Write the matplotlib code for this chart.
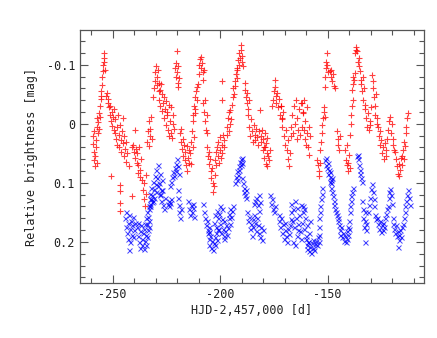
import matplotlib
matplotlib.use("Agg")
import matplotlib.pyplot as plt
from matplotlib.ticker import MultipleLocator, FuncFormatter

plt.rcParams['axes.unicode_minus'] = False
plt.rcParams['font.family'] = 'DejaVu Sans Mono'

# red: first band (+), one row per night
red_x = [
    -259.3, -259.1, -258.9, -258.7, -258.5, -258.3, -258.1, -257.9, -257.7, -257.5,
    -257.3, -257.1, -256.9, -256.7, -256.5, -256.3, -256.1,
    -255.8, -255.6, -255.4, -255.2, -255.0, -254.8, -254.6, -254.4, -254.2, -254.0, -253.8, -253.6,
    -253.0, -252.6, -252.3, -252.0, -251.7, -251.4, -251.1, -250.8, -250.5, -250.2, -249.9, -249.6, -249.3,
    -249.0, -248.7, -248.4, -248.1, -247.8, -247.5, -247.2, -246.9, -246.6, -246.3,
    -246.0, -245.7, -245.4, -245.1, -244.8, -244.5, -244.2, -243.9, -243.6, -243.3,
    -250.8, -246.6, -246.5, -246.5, -246.4, -241.2, -242.3, -241.0,
    -240.4, -240.1, -239.8, -239.5, -239.2, -238.9, -238.6, -238.3, -238.0, -237.7, -237.4, -237.1, -236.8,
    -236.2, -235.9, -235.6, -235.3, -235.0, -234.7, -234.4,
    -233.9, -233.6, -233.3, -233.0, -232.7, -232.4, -232.1, -231.8,
    -231.0, -230.7, -230.4, -230.1, -229.8, -229.5, -229.2, -228.9, -228.6, -228.3,
    -228.4, -228.1, -227.8, -227.5, -227.2, -226.9, -226.6, -226.3, -226.0, -225.7, -225.4, -225.1, -224.8,
    -224.5, -224.2, -223.9, -223.6, -223.3, -223.0, -222.7, -222.4, -222.1, -221.8, -221.5,
    -220.8, -220.6, -220.4, -220.2, -220.0, -219.8, -219.6, -219.4, -219.2,
    -218.6, -218.3, -218.0, -217.7, -217.4, -217.1, -216.8, -216.5, -216.2, -215.9, -215.6, -215.3, -215.0, -214.7, -214.4,
    -214.0, -213.7, -213.4, -213.1, -212.8, -212.5, -212.2, -211.9,
    -212.4, -212.1, -211.8, -211.5, -211.2, -210.9, -210.6,
    -210.2, -209.9, -209.6, -209.3, -209.0, -208.7, -208.4, -208.1, -207.8, -207.5,
    -207.8, -207.5, -207.2, -206.9, -206.6, -206.3, -206.0,
    -205.9, -205.6, -205.3, -205.0, -204.7, -204.4, -204.1, -203.8, -203.5, -203.2, -202.9, -202.6,
    -202.3, -202.0, -201.7, -201.4, -201.1, -200.8, -200.5, -200.2, -199.9, -199.6, -199.3, -199.0, -198.7, -198.4, -198.1,
    -199.3, -199.3,
    -197.0, -196.7, -196.4, -196.1, -195.8, -195.5, -195.2, -194.9,
    -194.4, -194.1, -193.8, -193.5, -193.2, -192.9, -192.6, -192.3, -192.0,
    -192.0, -191.7, -191.4, -191.1, -190.8, -190.5, -190.2, -189.9, -189.6, -189.4,
    -188.5, -188.2, -187.9, -187.6, -187.3, -187.0, -186.7,
    -186.8, -186.4, -186.0, -185.6, -185.2, -184.8, -184.4, -184.0, -183.6, -183.2, -182.8,
    -182.4, -182.0, -181.6, -181.2, -180.8, -180.4, -180.0, -179.6, -179.2, -178.8, -178.4,
    -180.0, -179.6, -179.2, -178.8, -178.4, -178.0, -177.6, -177.2, -176.9,
    -175.9, -175.5, -175.1, -174.7, -174.5, -174.2, -173.8, -173.4, -173.0, -172.6, -172.2, -171.8, -171.4,
    -171.8, -171.4, -171.0, -170.6, -170.2, -169.8, -169.4, -169.0, -168.6, -168.2, -167.8, -167.5,
    -167.2, -166.8, -166.4, -166.0, -165.6, -165.2, -164.8, -164.4, -164.0, -163.6, -163.2, -162.8, -162.4, -162.0, -161.6,
    -161.8, -161.5, -161.2, -160.9, -160.6, -160.3, -160.0, -159.7, -159.4, -159.1, -158.8, -158.5, -158.2,
    -155.0, -154.6, -154.2, -153.8, -153.4,
    -153.4, -153.1, -152.8, -152.5, -152.2, -151.9, -151.6, -151.3,
    -151.2, -151.0, -150.8, -150.6, -150.4, -150.2, -150.0,
    -149.0, -148.6, -148.2, -147.8, -147.4, -147.0, -146.7,
    -145.6, -145.3, -145.0, -144.7, -144.4,
    -141.8, -141.5, -141.2, -140.9, -140.6, -140.3, -140.0, -139.7,
    -139.5, -139.2, -138.9, -138.6, -138.3,
    -138.6, -138.3, -138.0, -137.7, -137.4,
    -137.2, -136.9, -136.6, -136.3,
    -135.8, -135.5, -135.2, -134.9, -134.6, -134.3, -134.0, -133.7, -133.4, -133.1, -132.8,
    -132.5, -132.1, -131.7, -131.3, -130.9, -130.5, -130.1, -129.7,
    -129.3, -129.0, -128.7, -128.4, -128.1, -127.8, -127.5, -127.2,
    -127.0, -126.6, -126.2, -125.8, -125.4, -125.0, -124.6, -124.2, -123.8, -123.4, -123.0, -122.6, -122.2,
    -121.8, -121.4, -121.0, -120.6, -120.2, -119.8, -119.4, -119.0,
    -118.6, -118.2, -117.8, -117.4, -117.0, -116.6, -116.2, -115.8, -115.4,
    -115.2, -114.9, -114.6, -114.3, -114.0, -113.7, -113.4, -113.1, -112.8,
]
red_y = [
    0.020, 0.034, 0.012, 0.048, 0.062, 0.072, 0.055, 0.040, 0.028, 0.066,
    0.005, -0.010, 0.015, -0.004, -0.018, 0.008, -0.012,
    -0.030, -0.042, -0.055, -0.048, -0.066, -0.080, -0.090, -0.100, -0.112, -0.120, -0.105, -0.092,
    -0.048, -0.052, -0.035, -0.042, -0.028, -0.015, -0.030, -0.005, -0.020, 0.004, -0.012, 0.010, -0.025,
    0.015, -0.008, 0.025, 0.005, 0.035, -0.015, 0.018, 0.040, 0.002, 0.028,
    0.048, 0.012, -0.010, 0.032, 0.055, 0.020, 0.042, 0.065, 0.030, 0.050,
    0.088, 0.104, 0.114, 0.134, 0.148, 0.123, 0.072, 0.040,
    0.035, 0.048, 0.010, 0.058, 0.042, 0.066, 0.050, 0.084, 0.070, 0.040, 0.078, 0.090, 0.060,
    0.095, 0.112, 0.128, 0.100, 0.140, 0.118, 0.086,
    0.030, 0.012, 0.038, -0.005, 0.020, 0.008, -0.012, 0.025,
    -0.045, -0.060, -0.072, -0.088, -0.098, -0.080, -0.066, -0.092, -0.055, -0.070,
    -0.040, -0.058, -0.030, -0.068, -0.022, -0.050, -0.035, -0.010, -0.045, -0.025, 0.002, -0.038, -0.015,
    -0.020, 0.010, -0.032, 0.020, -0.005, 0.015, -0.028, 0.024, 0.000, -0.015, 0.008,
    -0.095, -0.080, -0.104, -0.123, -0.088, -0.070, -0.098, -0.062, -0.078,
    0.015, 0.030, 0.008, 0.042, 0.025, 0.055, 0.035, 0.062, 0.048, 0.070, 0.038, 0.080, 0.058, 0.045, 0.066,
    0.050, 0.030, 0.068, 0.012, 0.040, -0.005, 0.022, -0.018,
    -0.015, -0.030, -0.045, -0.025, -0.055, -0.040, -0.062,
    -0.068, -0.085, -0.100, -0.110, -0.095, -0.114, -0.104, -0.088, -0.075, -0.092,
    -0.035, -0.020, -0.040, -0.005, 0.010, -0.015, 0.015,
    0.040, 0.055, 0.048, 0.068, 0.060, 0.080, 0.092, 0.075, 0.100, 0.115, 0.105, 0.086,
    0.062, 0.048, 0.070, 0.040, 0.055, 0.030, 0.066, 0.045, 0.022, 0.058, 0.035, 0.050, 0.018, 0.040, 0.028,
    -0.072, -0.040,
    0.018, 0.005, -0.010, 0.012, -0.020, 0.000, -0.024, -0.008,
    -0.032, -0.045, -0.060, -0.050, -0.072, -0.065, -0.085, -0.078, -0.092,
    -0.095, -0.108, -0.100, -0.120, -0.112, -0.134, -0.125, -0.115, -0.105, -0.098,
    -0.070, -0.058, -0.045, -0.052, -0.035, -0.025, -0.040,
    -0.015, 0.005, 0.020, -0.008, 0.012, 0.030, 0.002, 0.018, 0.028, 0.008, 0.022,
    0.035, 0.012, -0.024, 0.020, 0.030, 0.010, 0.026, 0.040, 0.016, 0.032, 0.024,
    0.045, 0.058, 0.040, 0.068, 0.050, 0.072, 0.055, 0.062, 0.044,
    -0.030, -0.040, -0.055, -0.062, -0.075, -0.048, -0.035, -0.052, -0.028, -0.042, -0.015, -0.030, -0.008,
    -0.030, -0.010, 0.005, -0.020, 0.020, 0.035, 0.010, 0.045, 0.060, 0.028, 0.072, 0.050,
    0.020, 0.005, -0.015, 0.015, -0.030, 0.000, -0.040, 0.025, -0.010, 0.010, -0.025, 0.018, -0.035, 0.005, -0.018,
    -0.035, -0.020, 0.010, -0.040, 0.025, -0.005, 0.035, 0.015, -0.028, 0.040, 0.005, 0.052, 0.020,
    0.062, 0.070, 0.080, 0.088, 0.066,
    0.045, 0.030, 0.015, 0.002, -0.010, -0.020, -0.028, -0.012,
    -0.062, -0.080, -0.095, -0.105, -0.120, -0.100, -0.088,
    -0.090, -0.080, -0.092, -0.072, -0.085, -0.065, -0.060,
    0.012, 0.025, 0.035, 0.044, 0.020,
    0.045, 0.062, 0.070, 0.035, 0.080, 0.066, 0.052, 0.075,
    0.018, 0.000, -0.015, -0.030, -0.040,
    -0.058, -0.068, -0.080, -0.075, -0.087,
    -0.120, -0.126, -0.130, -0.124,
    -0.105, -0.112, -0.098, -0.090, -0.075, -0.068, -0.055, -0.080, -0.040, -0.060, -0.032,
    -0.025, -0.010, 0.005, -0.018, 0.010, -0.005, 0.002, -0.028,
    -0.083, -0.072, -0.060, -0.045, -0.030, -0.015, -0.050, 0.000,
    -0.010, 0.005, 0.020, 0.012, 0.035, 0.028, 0.050, 0.040, 0.060, 0.032, 0.055, 0.045, 0.025,
    0.010, -0.005, -0.012, 0.015, 0.000, 0.025, 0.035, 0.044,
    0.048, 0.060, 0.072, 0.085, 0.068, 0.089, 0.078, 0.058, 0.070,
    0.055, 0.045, 0.060, 0.030, 0.038, 0.015, 0.005, -0.010, -0.018,
]

# blue: second band (x)
blue_x = [
    -244.2, -243.9, -243.6, -243.3, -243.0, -242.7, -242.4, -242.1, -241.8, -241.5, -241.2, -240.9, -240.6, -240.3, -240.0, -239.7, -242.4,
    -238.6, -238.3, -238.0, -237.7, -237.4, -237.1, -236.8, -236.5, -236.2, -235.9,
    -235.6, -235.3, -235.0, -234.7, -234.4, -234.1, -233.8, -233.5, -233.2, -232.9,
    -234.8, -234.4, -234.0, -233.6, -233.2, -232.8, -232.4, -232.0, -231.7,
    -233.2, -232.8, -232.4, -232.0, -231.6, -231.2, -230.8, -230.4, -230.0, -229.6, -229.2,
    -228.8, -228.4, -228.0, -227.6, -227.2, -231.4, -230.6, -229.8, -229.0, -228.2,
    -227.8, -227.4, -227.0, -226.6, -226.2, -225.8,
    -224.4, -224.0, -223.6, -223.2, -222.8,
    -223.1, -222.7, -222.3, -221.9, -221.5, -221.1, -220.7, -220.3, -219.9, -219.5, -219.1,
    -219.8, -219.5, -219.2, -218.9, -218.6, -218.4,
    -214.8, -214.4, -214.0, -213.6, -213.2, -212.8, -212.4, -212.0,
    -207.8, -207.4, -207.0, -206.6, -206.2, -205.8, -205.4, -205.0,
    -205.8, -205.4, -205.0, -204.6, -204.2, -203.8, -203.4, -203.0, -202.6, -202.2, -201.8, -201.4, -201.0,
    -202.8, -202.4, -202.0, -201.6, -201.2, -200.8, -200.4, -200.0, -199.6, -199.2, -198.8,
    -198.4, -198.0, -197.6, -197.2, -196.8, -196.4, -196.0, -195.6, -199.0, -198.0, -200.2,
    -195.8, -195.4, -195.0, -194.6, -194.2,
    -192.9, -192.6, -192.3, -192.0, -191.7, -191.4, -191.1, -190.8, -190.5, -190.2, -189.9, -189.6,
    -189.6, -189.3, -189.0, -188.7, -188.4, -188.1, -187.8,
    -187.3, -186.9, -186.5, -186.1, -185.7, -185.3, -184.9, -184.5, -184.1, -183.7,
    -183.3, -182.9, -182.5, -182.1, -181.7, -181.3, -180.9, -180.5, -180.1,
    -184.4, -183.8, -183.2, -182.6, -182.0, -181.4,
    -176.6, -176.2, -175.8, -175.4, -175.0, -174.6,
    -172.8, -172.4, -172.0, -171.6, -171.2, -170.8, -170.4, -170.0, -169.6, -169.2, -168.8, -168.4, -168.0, -167.6, -167.2,
    -167.2, -166.8, -166.4, -166.0, -165.6, -165.2, -164.8, -164.4, -164.0, -163.6, -163.2, -162.8, -162.4, -162.0,
    -161.6, -161.2, -160.8, -160.4, -160.0, -159.6, -159.2, -158.8, -158.4, -166.2, -165.0, -163.8, -162.6, -161.4,
    -160.2, -159.8, -159.4, -159.0, -158.6, -158.2, -157.8, -157.4, -157.0,
    -156.6, -156.2, -155.8, -155.4, -155.0, -154.6, -154.2, -153.8,
    -154.2, -153.9, -153.6, -153.3, -153.0, -152.7, -152.4,
    -151.2, -150.9, -150.6, -150.3, -150.0, -149.7, -149.4, -149.1, -148.8, -148.5, -148.2, -147.9,
    -148.8, -148.4, -148.0, -147.6, -147.2, -146.8, -146.4, -146.0, -145.6, -145.3,
    -145.2, -144.8, -144.4, -144.0, -143.6, -143.2, -142.8, -142.4, -142.0, -141.6, -141.2, -140.8, -140.4, -140.0,
    -140.4, -140.1, -139.8, -139.5, -139.2, -138.9, -138.6, -138.3,
    -136.3, -136.0, -135.7, -135.4, -135.1, -134.8, -134.5, -134.2,
    -134.0, -133.7, -133.4, -133.1, -132.8, -132.5, -132.2, -131.9, -132.7,
    -131.0, -130.6, -130.2, -129.8, -129.4, -129.0, -128.6, -128.2, -127.8, -127.4,
    -126.8, -126.4, -126.0, -125.6, -125.2, -124.8, -124.4, -124.0, -123.6, -123.2, -122.8, -122.4,
    -122.0, -121.6, -121.2, -120.8, -120.4, -120.0,
    -119.8, -119.4, -119.0, -118.6, -118.2, -117.8, -117.4, -117.0, -116.6, -116.2, -115.8, -115.4, -117.3,
    -115.0, -114.6, -114.2, -113.8, -113.4, -113.0, -112.6, -112.2, -111.8,
]
blue_y = [
    0.160, 0.175, 0.150, 0.185, 0.168, 0.195, 0.155, 0.178, 0.200, 0.165, 0.188, 0.172, 0.158, 0.192, 0.180, 0.168, 0.214,
    0.175, 0.190, 0.168, 0.200, 0.182, 0.210, 0.172, 0.195, 0.205, 0.185,
    0.212, 0.178, 0.198, 0.206, 0.188, 0.170, 0.192, 0.180, 0.165, 0.175,
    0.170, 0.160, 0.150, 0.158, 0.145, 0.135, 0.140, 0.128, 0.132,
    0.140, 0.128, 0.118, 0.108, 0.120, 0.098, 0.110, 0.088, 0.102, 0.078, 0.092,
    0.070, 0.100, 0.085, 0.112, 0.095, 0.130, 0.125, 0.115, 0.105, 0.120,
    0.118, 0.130, 0.112, 0.138, 0.145, 0.125,
    0.136, 0.130, 0.140, 0.134, 0.128,
    0.105, 0.098, 0.090, 0.082, 0.088, 0.075, 0.068, 0.080, 0.060, 0.072, 0.085,
    0.112, 0.125, 0.138, 0.150, 0.160, 0.145,
    0.130, 0.145, 0.155, 0.138, 0.150, 0.135, 0.142, 0.158,
    0.135, 0.150, 0.160, 0.172, 0.165, 0.180, 0.184, 0.175,
    0.185, 0.195, 0.205, 0.190, 0.210, 0.198, 0.213, 0.202, 0.192, 0.205, 0.185, 0.196, 0.178,
    0.168, 0.155, 0.175, 0.148, 0.160, 0.180, 0.152, 0.170, 0.185, 0.162, 0.178,
    0.190, 0.165, 0.182, 0.172, 0.188, 0.176, 0.160, 0.170, 0.145, 0.195, 0.140,
    0.152, 0.145, 0.158, 0.148, 0.140,
    0.100, 0.090, 0.095, 0.080, 0.086, 0.072, 0.078, 0.065, 0.070, 0.060, 0.066, 0.058,
    0.092, 0.100, 0.108, 0.115, 0.120, 0.112, 0.125,
    0.150, 0.165, 0.158, 0.178, 0.170, 0.190, 0.162, 0.175, 0.155, 0.168,
    0.182, 0.160, 0.172, 0.148, 0.185, 0.192, 0.175, 0.196, 0.180,
    0.135, 0.130, 0.125, 0.138, 0.120, 0.132,
    0.120, 0.135, 0.128, 0.145, 0.150, 0.140,
    0.155, 0.165, 0.175, 0.160, 0.185, 0.170, 0.195, 0.180, 0.168, 0.190, 0.200, 0.178, 0.186, 0.172, 0.162,
    0.150, 0.135, 0.165, 0.145, 0.175, 0.130, 0.160, 0.190, 0.142, 0.170, 0.155, 0.182, 0.138, 0.168,
    0.150, 0.178, 0.145, 0.160, 0.190, 0.172, 0.200, 0.185, 0.165, 0.200, 0.205, 0.180, 0.195, 0.140,
    0.195, 0.205, 0.212, 0.200, 0.215, 0.208, 0.218, 0.202, 0.210,
    0.196, 0.214, 0.204, 0.198, 0.206, 0.192, 0.200, 0.188,
    0.175, 0.160, 0.150, 0.140, 0.128, 0.118, 0.108,
    0.062, 0.070, 0.058, 0.075, 0.066, 0.085, 0.078, 0.090, 0.082, 0.095, 0.100, 0.092,
    0.098, 0.108, 0.115, 0.122, 0.130, 0.138, 0.145, 0.150, 0.155, 0.160,
    0.165, 0.172, 0.180, 0.188, 0.175, 0.192, 0.185, 0.198, 0.190, 0.200, 0.182, 0.195, 0.188, 0.178,
    0.175, 0.165, 0.150, 0.140, 0.130, 0.122, 0.115, 0.108,
    0.055, 0.060, 0.052, 0.070, 0.085, 0.078, 0.092, 0.098,
    0.130, 0.145, 0.160, 0.175, 0.150, 0.165, 0.180, 0.170, 0.200,
    0.150, 0.138, 0.125, 0.110, 0.102, 0.115, 0.128, 0.140, 0.155, 0.162,
    0.160, 0.170, 0.178, 0.165, 0.184, 0.172, 0.180, 0.168, 0.175, 0.160, 0.152, 0.145,
    0.140, 0.125, 0.115, 0.110, 0.120, 0.135,
    0.160, 0.170, 0.178, 0.185, 0.172, 0.190, 0.182, 0.196, 0.188, 0.180, 0.192, 0.175, 0.208,
    0.170, 0.160, 0.150, 0.140, 0.130, 0.120, 0.112, 0.125, 0.138,
]

fig = plt.figure(figsize=(4.37, 3.38), dpi=100)
ax = fig.add_axes([0.183, 0.163, 0.787, 0.748])

ax.plot(red_x, red_y, '+', color='red', ms=5, mew=0.8, alpha=0.75)
ax.plot(blue_x, blue_y, 'x', color='blue', ms=3.6, mew=0.7, alpha=0.75)

ax.set_xlim(-265.2, -105.2)
ax.set_ylim(0.2695, -0.159)

ax.xaxis.set_major_locator(MultipleLocator(50))
ax.xaxis.set_minor_locator(MultipleLocator(10))
ax.yaxis.set_major_locator(MultipleLocator(0.1))
ax.yaxis.set_minor_locator(MultipleLocator(0.02))
ax.yaxis.set_major_formatter(FuncFormatter(lambda v, p: '%g' % round(v, 3)))

ax.tick_params(which='both', direction='in', top=True, right=True, colors='#555555',
               labelcolor='#222222', labelsize=8.5, width=0.8)
ax.tick_params(which='major', length=6)
ax.tick_params(which='minor', length=3.5)
for s in ax.spines.values():
    s.set_color('#555555')
    s.set_linewidth(0.9)

ax.set_xlabel('HJD-2,457,000 [d]', fontsize=8.5, color='#222222', labelpad=2)
ax.set_ylabel('Relative brightness [mag]', fontsize=8.5, color='#222222', labelpad=6)

fig.savefig('out.png', dpi=100)
